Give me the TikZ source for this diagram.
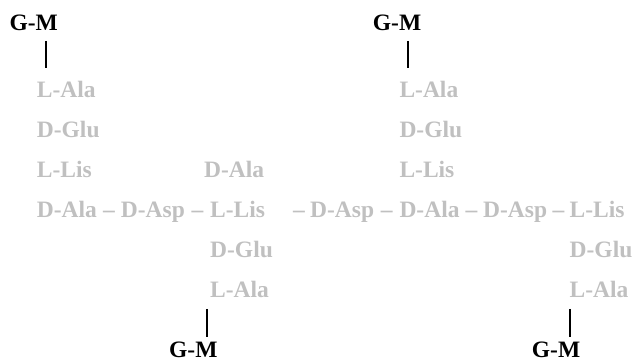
\documentclass[tikz,border=0pt]{standalone}
\usepackage{fontspec}
\setmainfont{Liberation Serif}
\usetikzlibrary{calc}
\definecolor{aagray}{RGB}{192,192,192}
\tikzset{
	amino/.style={text=aagray, anchor=base west, inner sep=0pt, font=\bfseries\fontsize{23.5}{28}\selectfont},
	sugar/.style={text=black, anchor=base west, inner sep=0pt, font=\bfseries\fontsize{23.5}{28}\selectfont},
	bond/.style={draw=black, line width=1.6pt}
}
\begin{document}
\begin{tikzpicture}[x=1pt, y=-1pt]
	\useasboundingbox (0,0) rectangle (633,363);

	% left strand
	\node[sugar]  (gm1)  at (9.3,31)    {G-M};
	\node[amino]  (ala1) at (36.7,98)   {L-Ala};
	\node[amino]  (glu1) at (36.7,138)  {D-Glu};
	\node[amino]  (lis1) at (36.7,178)  {L-Lis};
	\node[amino]  (dal1) at (36.7,218)  {D-Ala};
	\node[amino]  (asp1) at (120.7,218) {D-Asp};
	\node[amino]  (lis2) at (210,218)   {L-Lis};
	\node[amino]  (dal2) at (204,178)   {D-Ala};
	\node[amino]  (glu2) at (210,258)   {D-Glu};
	\node[amino]  (ala2) at (210,298)   {L-Ala};
	\node[sugar]  (gm2)  at (169,358)   {G-M};

	% right strand
	\node[sugar]  (gm3)  at (372.7,31)  {G-M};
	\node[amino]  (ala3) at (399.3,98)  {L-Ala};
	\node[amino]  (glu3) at (399.3,138) {D-Glu};
	\node[amino]  (lis3) at (399.3,178) {L-Lis};
	\node[amino]  (asp2) at (310,218)   {D-Asp};
	\node[amino]  (dal3) at (399.3,218) {D-Ala};
	\node[amino]  (asp3) at (483,218)   {D-Asp};
	\node[amino]  (lis4) at (569.5,218) {L-Lis};
	\node[amino]  (glu4) at (569.5,258) {D-Glu};
	\node[amino]  (ala4) at (569.5,298) {L-Ala};
	\node[sugar]  (gm4)  at (531.7,358) {G-M};

	% peptide dashes
	\path (dal1.base east) -- (asp1.base west) node[amino, midway, anchor=base] {--};
	\path (asp1.base east) -- (lis2.base west) node[amino, midway, anchor=base] {--};
	\node[amino, anchor=base east] (dash0) at ($(asp2.base west)+(-5,0)$) {--};
	\path (asp2.base east) -- (dal3.base west) node[amino, midway, anchor=base] {--};
	\path (dal3.base east) -- (asp3.base west) node[amino, midway, anchor=base] {--};
	\path (asp3.base east) -- (lis4.base west) node[amino, midway, anchor=base] {--};

	% glycan bonds
	\draw[bond] ($(ala1.base west |- gm1.base)+(9,10)$)   -- ($(ala1.base west)+(9,-30)$);
	\draw[bond] ($(ala3.base west |- gm3.base)+(8.4,10)$) -- ($(ala3.base west)+(8.4,-30)$);
	\draw[bond] ($(ala2.base west)+(-2.8,11)$) -- ($(ala2.base west |- gm2.base)+(-2.8,-21)$);
	\draw[bond] ($(ala4.base west)+(0.3,11)$) -- ($(ala4.base west |- gm4.base)+(0.3,-21)$);
\end{tikzpicture}
\end{document}
